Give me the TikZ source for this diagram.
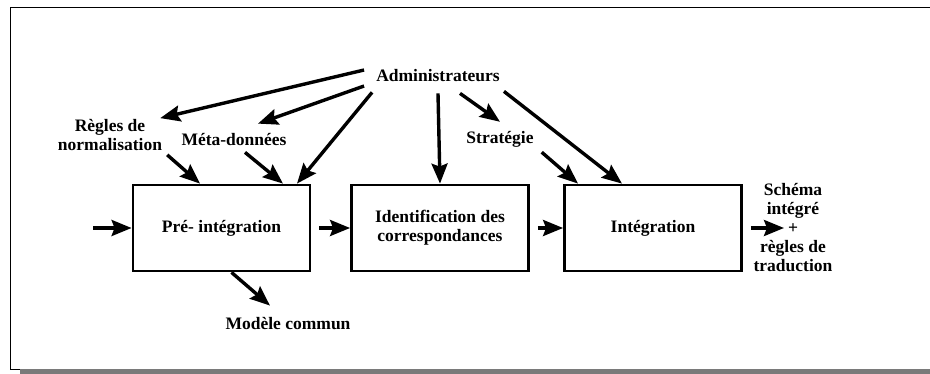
\documentclass[tikz,border=0pt]{standalone}
\usepackage{fontspec}
\setmainfont{Liberation Serif}
\usepackage{xcolor}
\usepackage{tikz}
\usetikzlibrary{arrows.meta}

\tikzset{
    etape/.style={draw, line width=2.8pt, minimum width=177pt, minimum height=86pt,
        align=center},
    etiq/.style={inner sep=0pt, align=center},
    fleche/.style={line width=3.4pt, -{Stealth[length=20pt,width=16pt,inset=3pt]}}
}

\begin{document}
\begin{tikzpicture}[x=1pt, y=-1pt, font=\fontsize{17.5}{19}\selectfont\bfseries]
        \useasboundingbox (0, 0) rectangle (930, 374);
        \fill[black!52] (20, 369) rectangle (930, 374);
        \draw[thin] (936, 7) -- (10, 7) -- (10, 369) -- (20, 369);

        \node[etape] (pre) at (221.5, 228) {Pré- intégration};
        \node[etape] (ident) at (440, 228) {Identification des\\correspondances};
        \node[etape] (integ) at (653, 228) {Intégration};

        \node[etiq] (admin) at (438, 76) {Administrateurs};
        \node[etiq] (regles) at (110, 135) {Règles de\\normalisation};
        \node[etiq] (meta) at (234, 140) {Méta-données};
        \node[etiq] (strat) at (500, 139) {Stratégie};
        \node[etiq] (modele) at (288, 324) {Modèle commun};
        \node[etiq] (schema) at (793, 228)
            {Schéma\\intégré\\+\\règles de\\traduction};

        \coordinate (entree) at (93, 228);
        \coordinate (sortie) at (784, 228);

        \draw[fleche] ([shift={(-12,-6)}]admin.west) -- ([shift={(-2,-1)}]regles.north east);
        \draw[fleche] ([shift={(-12,10)}]admin.west) -- ([shift={(24,-10)}]meta.north);
        \draw[fleche] ([shift={(-4,10)}]admin.south west) -- ([xshift=75.5pt]pre.north);
        \draw[fleche] ([yshift=-11pt]admin.south) -- (ident.north);
        \draw[fleche] ([shift={(22,11)}]admin.south) -- ([shift={(0,-9)}]strat.north);
        \draw[fleche] ([shift={(4,9)}]admin.south east) -- ([xshift=-31pt]integ.north);

        \draw[fleche] ([shift={(5,4)}]regles.south east) -- ([xshift=-21.5pt]pre.north);
        \draw[fleche] ([shift={(11,6)}]meta.south) -- ([xshift=61.5pt]pre.north);
        \draw[fleche] ([shift={(8,5)}]strat.south east) -- ([xshift=-75pt]integ.north);

        \draw[fleche] (entree) -- (pre.west);
        \draw[fleche] ([xshift=8pt]pre.east) -- (ident.west);
        \draw[fleche] ([xshift=8pt]ident.east) -- (integ.west);
        \draw[fleche] ([xshift=8pt]integ.east) -- (sortie);
        \draw[fleche] ([xshift=10pt]pre.south) -- ([shift={(-18,-12)}]modele.north);

    \end{tikzpicture}
\end{document}
